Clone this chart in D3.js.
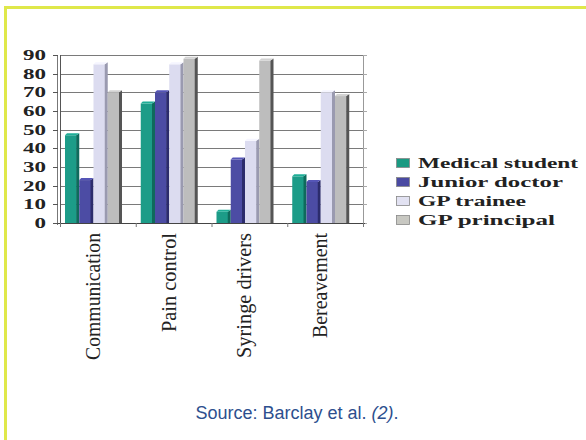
<!DOCTYPE html>
<html><head><meta charset="utf-8">
<script src="https://cdn.jsdelivr.net/npm/d3@7"></script>
<style>body{margin:0;background:#fff}svg{display:block}</style>
</head><body>
<svg id="c" width="586" height="440"></svg>
<script>
const categories = ["Communication", "Pain control", "Syringe drivers", "Bereavement"];
const series = ["Medical student", "Junior doctor", "GP trainee", "GP principal"];
const medicalStudent = [47, 64, 6, 25];
const juniorDoctor = [23, 70, 34, 22];
const gpTrainee = [85, 85, 44, 70];
const gpPrincipal = [70, 88, 87, 68];
const yTicks = [0, 10, 20, 30, 40, 50, 60, 70, 80, 90];
const sourceText = "Source: Barclay et al. ";
const sourceRef = "(2)";

const values = [medicalStudent, juniorDoctor, gpTrainee, gpPrincipal];
const fills = ["#1c9c88", "#4c4ca4", "#dcdcf0", "#bdbdbd"];
const sides = ["#0f6a5c", "#2c2c6c", "#9a9ab0", "#555555"];
const legendFills = ["#1a9a82", "#4a4aa2", "#e2e2f2", "#c8c8c2"];

const svg = d3.select("#c");
// frame
svg.append("path").attr("d", "M5.5,440 L5.5,7.5 L586,7.5")
  .attr("fill", "none").attr("stroke", "#dfe84a").attr("stroke-width", 3);

const pLeft = 60, pRight = 363, pTop = 55, pBottom = 223;
const y = d3.scaleLinear().domain([0, 90]).range([pBottom, pTop]);
const x0 = d3.scaleBand().domain(categories).range([pLeft, pRight]).padding(0);
const x1 = d3.scaleBand().domain(series).range([5, 62]).padding(0);

// gridlines
svg.append("g").selectAll("line").data(yTicks.slice(1)).join("line")
  .attr("x1", pLeft).attr("x2", pRight)
  .attr("y1", d => Math.round(y(d)) + 0.5).attr("y2", d => Math.round(y(d)) + 0.5)
  .attr("stroke", "#7a7a7a").attr("stroke-width", 1);
// right wall line
svg.append("line").attr("x1", pRight + 0.5).attr("x2", pRight + 0.5).attr("y1", pTop).attr("y2", pBottom)
  .attr("stroke", "#999");
// right small ticks
svg.append("g").selectAll("line").data(yTicks).join("line")
  .attr("x1", pRight).attr("x2", pRight + 4)
  .attr("y1", d => Math.round(y(d)) + 0.5).attr("y2", d => Math.round(y(d)) + 0.5)
  .attr("stroke", "#aaa");

// bars
const g = svg.append("g");
categories.forEach((c, ci) => {
  series.forEach((s, si) => {
    const v = values[si][ci];
    const bx = x0(c) + x1(s);
    const bw = x1.bandwidth();
    const by = y(v);
    const sw = 3;
    g.append("rect").attr("x", bx).attr("y", by).attr("width", bw - sw + 0.5).attr("height", pBottom - by)
      .attr("fill", fills[si]);
    g.append("path").attr("d", `M${bx + bw - sw},${by} L${bx + bw},${by - 2} L${bx + bw},${pBottom} L${bx + bw - sw},${pBottom} Z`)
      .attr("fill", sides[si]);
    g.append("path").attr("d", `M${bx},${by} L${bx + 2},${by - 2} L${bx + bw},${by - 2} L${bx + bw - sw},${by} Z`)
      .attr("fill", d3.color(fills[si]).brighter(0.3));
  });
});

// left axis (double line wall)
svg.append("line").attr("x1", pLeft - 2.5).attr("x2", pLeft - 2.5).attr("y1", pTop).attr("y2", pBottom + 2).attr("stroke", "#777");
svg.append("line").attr("x1", pLeft + 0.5).attr("x2", pLeft + 0.5).attr("y1", pTop).attr("y2", pBottom).attr("stroke", "#555");
// bottom axis
svg.append("line").attr("x1", pLeft - 3).attr("x2", pRight + 2).attr("y1", pBottom + 0.5).attr("y2", pBottom + 0.5).attr("stroke", "#444");
svg.append("g").selectAll("line").data(d3.range(categories.length + 1)).join("line")
  .attr("x1", i => pLeft + i * x0.bandwidth() + 0.5).attr("x2", i => pLeft + i * x0.bandwidth() + 0.5)
  .attr("y1", pBottom).attr("y2", pBottom + 4).attr("stroke", "#777");

// y ticks
const yt = svg.append("g");
yt.selectAll("line").data(yTicks).join("line")
  .attr("x1", pLeft - 7).attr("x2", pLeft - 2)
  .attr("y1", d => Math.round(y(d)) + 0.5).attr("y2", d => Math.round(y(d)) + 0.5)
  .attr("stroke", "#555");
yt.selectAll("text").data(yTicks).join("text")
  .attr("x", 46).attr("y", d => y(d) + 5)
  .attr("text-anchor", "end")
  .attr("font-family", "Liberation Serif, Times New Roman, serif")
  .attr("font-weight", "bold").attr("font-size", 15).attr("fill", "#222")
  .attr("textLength", d => String(d).length * 11.5).attr("lengthAdjust", "spacingAndGlyphs")
  .text(d => d);

// category labels
const labelLens = [127, 99, 125, 105];
svg.append("g").selectAll("text").data(categories).join("text")
  .attr("transform", d => `translate(${x0(d) + x0.bandwidth() / 2 - 5},${233}) rotate(-90)`)
  .attr("text-anchor", "end").attr("dy", "0.35em")
  .attr("font-family", "Liberation Serif, Times New Roman, serif")
  .attr("font-size", 20).attr("fill", "#222")
  .attr("textLength", (d, i) => labelLens[i]).attr("lengthAdjust", "spacingAndGlyphs")
  .text(d => d);

// legend
const legLens = [160, 145, 108, 137];
const leg = svg.append("g");
series.forEach((s, i) => {
  const ly = 163 + i * 19;
  leg.append("rect").attr("x", 396.5).attr("y", ly - 4.5).attr("width", 13).attr("height", 9)
    .attr("fill", legendFills[i]).attr("stroke", "#888").attr("stroke-width", 0.8);
  leg.append("text").attr("x", 418).attr("y", ly + 5)
    .attr("font-family", "Liberation Serif, Times New Roman, serif")
    .attr("font-weight", "bold").attr("font-size", 14).attr("fill", "#222")
    .attr("textLength", legLens[i]).attr("lengthAdjust", "spacingAndGlyphs")
    .text(s);
});

// source
const src = svg.append("text").attr("x", 297).attr("y", 419).attr("text-anchor", "middle")
  .attr("font-family", "Liberation Sans, Arial, sans-serif").attr("font-size", 18).attr("fill", "#2d4f8e");
src.append("tspan").text(sourceText);
src.append("tspan").attr("font-style", "italic").text(sourceRef);
src.append("tspan").text(".");
</script>
</body></html>
